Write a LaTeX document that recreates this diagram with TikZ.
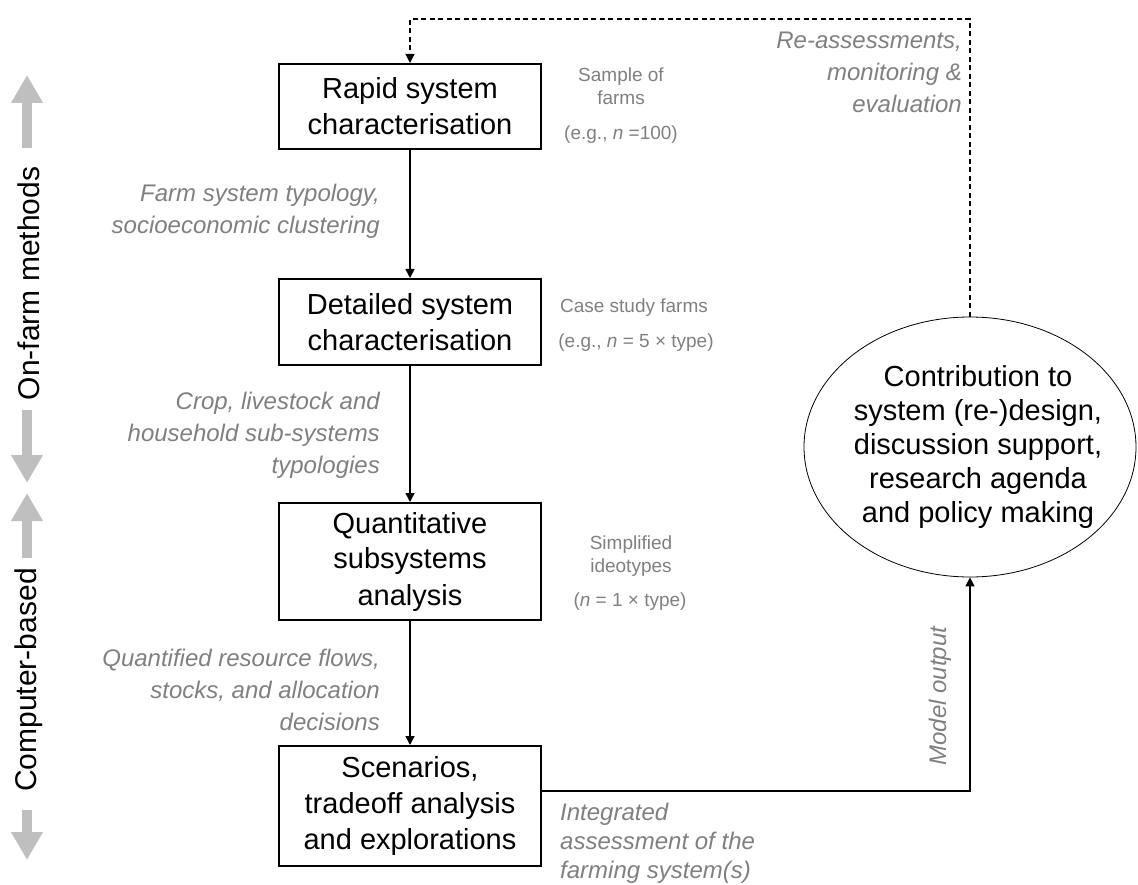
\documentclass[tikz,border=0pt]{standalone}
\usepackage{fontspec}
\setmainfont{Liberation Sans}
\usetikzlibrary{arrows.meta,shapes.geometric}
\definecolor{lbl}{HTML}{808080}
\definecolor{side}{HTML}{BFBFBF}
\begin{document}
\begin{tikzpicture}[x=1pt,y=-1pt,
 box/.style={draw, line width=2pt, minimum width=262pt, align=center, inner sep=0pt, font=\fontsize{29}{36}\selectfont},
 flow/.style={line width=1.5pt, -{Triangle[length=9pt,width=9pt]}},
 fb/.style={line width=1.2pt, dash pattern=on 5pt off 3.5pt, -{Triangle[length=9pt,width=9pt]}},
 note/.style={text=lbl, font=\fontsize{24}{32}\selectfont\itshape, inner sep=0pt},
 small/.style={text=lbl, font=\fontsize{19}{23}\selectfont, align=center, inner sep=0pt},
 sidearrow/.style={line width=10pt, draw=side, fill=side, -{Triangle[length=28pt,width=30pt]}},
 sidelabel/.style={rotate=90, font=\fontsize{30}{36}\selectfont, inner sep=0pt}]
\useasboundingbox (0,0) rectangle (1138,885);
% boxes
\node[box, minimum height=85pt] (b1) at (410,106.5) {Rapid system\\characterisation};
\node[box, minimum height=86pt] (b2) at (410,322) {Detailed system\\characterisation};
\node[box, minimum height=117pt] (b3) at (410,561.5) {Quantitative\\subsystems\\analysis};
\node[box, minimum height=120pt] (b4) at (410,806) {Scenarios,\\tradeoff analysis\\and explorations};
% ellipse
\node[ellipse, draw, line width=0.8pt, minimum width=332pt, minimum height=260pt, inner sep=0pt] (out) at (970,447) {};
\node[align=center, inner sep=0pt, font=\fontsize{29}{34}\selectfont] (outtxt) at ([xshift=8pt]out.center) {Contribution to\\system (re-)design,\\discussion support,\\research agenda\\and policy making};
% connectors
\draw[flow] (b1) -- (b2);
\draw[flow] (b2) -- (b3);
\draw[flow] (b3) -- (b4);
\coordinate (turn) at (970,791);
\draw[flow] (b4.east |- turn) -| (out.south);
\coordinate (dl) at (410,19);
\draw[fb] (out.north) |- (dl) -- (b1.north);
% flow labels
\node[note, anchor=east, align=right] (l1) at (380,211) {Farm system typology,\\socioeconomic clustering};
\node[note, anchor=east, align=right] (l2) at (380,435) {Crop, livestock and\\household sub-systems\\typologies};
\node[note, anchor=east, align=right] (l3) at (380,690) {Quantified resource flows,\\stocks, and allocation\\decisions};
\node[note, anchor=west, align=left, font=\fontsize{24}{29}\selectfont\itshape] (l4) at (560,843) {Integrated\\assessment of the\\farming system(s)};
\node[note, anchor=east, align=right] (l5) at (962,72) {Re-assessments,\\monitoring \&\\evaluation};
\node[note, rotate=90] (l6) at (940,696) {Model output};
% sample labels
\node[small] (s1) at (621,86.5) {Sample of\\farms};
\node[small] (s1b) at (621,135) {(e.g., \textit{n} =100)};
\node[small] (s2) at (634,308) {Case study farms};
\node[small] (s2b) at (636,343) {(e.g., \textit{n} = 5 × type)};
\node[small] (s3) at (631,556) {Simplified\\ideotypes};
\node[small] (s3b) at (630,602) {(\textit{n} = 1 × type)};
% side arrows
\coordinate (a1s) at (27,148); \coordinate (a1e) at (27,75);
\coordinate (a2s) at (27,410); \coordinate (a2e) at (27,483);
\coordinate (a3s) at (27,558); \coordinate (a3e) at (27,493);
\coordinate (a4s) at (27,810); \coordinate (a4e) at (27,860);
\draw[sidearrow] (a1s) -- (a1e);
\draw[sidearrow] (a2s) -- (a2e);
\draw[sidearrow] (a3s) -- (a3e);
\draw[sidearrow] (a4s) -- (a4e);
\node[sidelabel] (t1) at (29,283.5) {On-farm methods};
\node[sidelabel] (t2) at (29,680) {Computer-based};
\end{tikzpicture}
\end{document}
